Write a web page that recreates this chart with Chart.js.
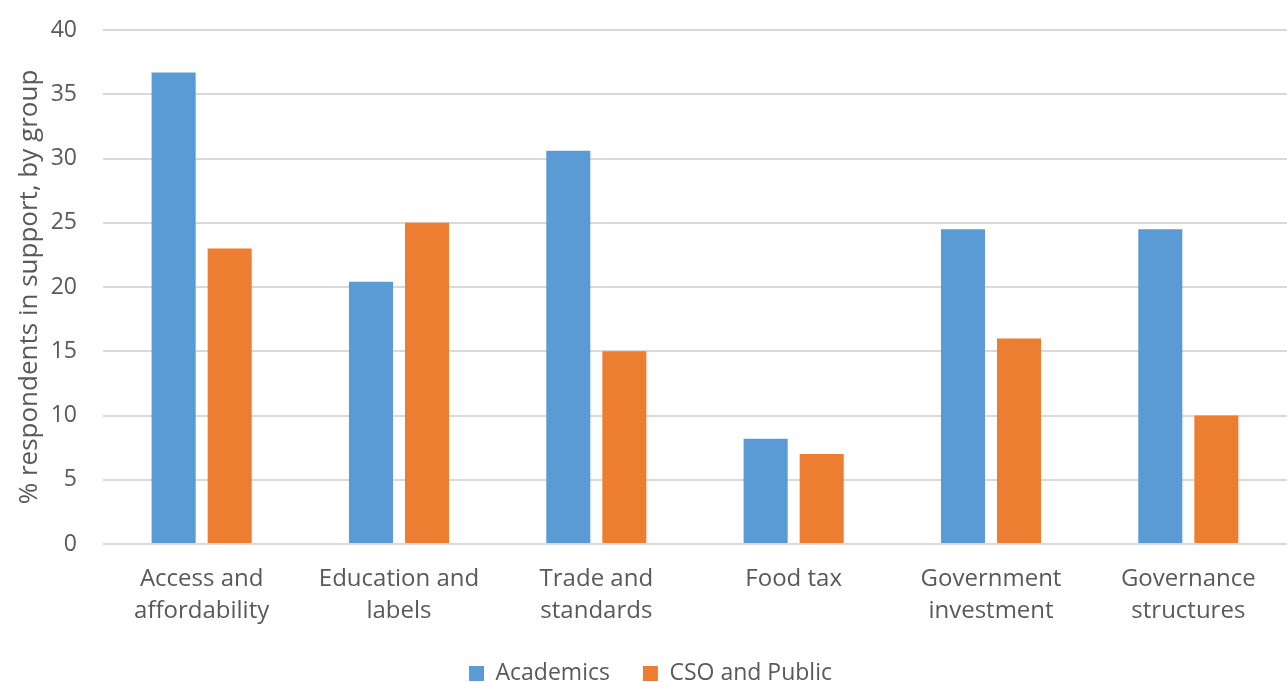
<!DOCTYPE html>
<html>
  <head>
    <style>
      html, body {
        margin: 0;
        padding: 0;
        background: #fff;
      }
      .frame {
        width: 1287px;
        height: 682px;
        overflow: hidden;
      }
      /* taller than the frame so the legend's bottom padding is cut off */
      .container {
        width: 1287px;
        height: 695px;
      }
    </style>
  </head>
  <body>
    <div class="frame">
      <div class="container">
        <canvas id="policies"></canvas>
      </div>
    </div>

    <script src="https://cdn.jsdelivr.net/npm/chart.js"></script>
    <script>
      const categories = [
        ['Access and', 'affordability'],
        ['Education and', 'labels'],
        ['Trade and', 'standards'],
        'Food tax',
        ['Government', 'investment'],
        ['Governance', 'structures'],
      ];
      const academics = [36.7, 20.4, 30.6, 8.2, 24.5, 24.5];
      const csoPublic = [23, 25, 15, 7, 16, 10];
      const yTicks = [0, 5, 10, 15, 20, 25, 30, 35, 40];

      const textColor = '#595959';
      const fontFamily = '"Open Sans", sans-serif';

      const config = {
        type: 'bar',
        data: {
          labels: categories,
          datasets: [
            {
              label: 'Academics',
              data: academics,
              backgroundColor: '#5b9bd5',
              barPercentage: 0.786,
              categoryPercentage: 0.568,
            },
            {
              label: 'CSO and Public',
              data: csoPublic,
              backgroundColor: '#ed7d31',
              barPercentage: 0.786,
              categoryPercentage: 0.568,
            },
          ],
        },
        options: {
          responsive: true,
          maintainAspectRatio: false,
          animation: false,
          layout: {
            padding: { top: 30, right: 0, left: 14, bottom: 0 },
          },
          plugins: {
            legend: {
              position: 'bottom',
              labels: {
                color: textColor,
                font: { family: fontFamily, size: 23 },
                boxWidth: 15,
                boxHeight: 15,
                padding: 33,
              },
            },
            tooltip: { enabled: false },
          },
          scales: {
            x: {
              grid: { display: false, drawTicks: false },
              border: { display: false },
              ticks: {
                color: textColor,
                font: { family: fontFamily, size: 24, lineHeight: 1.35 },
                maxRotation: 0,
                padding: 19,
              },
              afterFit: (axis) => {
                axis.height = 85;
              },
            },
            y: {
              min: 0,
              max: 40,
              afterBuildTicks: (axis) => {
                axis.ticks = yTicks.map((v) => ({ value: v }));
              },
              // fixed axis column so the plot starts at x=103; top spacing comes from layout
              afterFit: (axis) => {
                axis.width = 89;
                axis.paddingTop = 0;
              },
              grid: { color: '#d9d9d9', lineWidth: 2, drawTicks: false },
              border: { display: false },
              ticks: {
                color: textColor,
                font: { family: fontFamily, size: 23, lineHeight: 1 },
                padding: 26,
              },
              title: {
                display: true,
                text: '% respondents in support, by group',
                color: textColor,
                font: { family: fontFamily, size: 26 },
                padding: { top: 0, bottom: 6 },
              },
            },
          },
        },
      };

      new Chart(document.getElementById('policies'), config);
    </script>
  </body>
</html>
